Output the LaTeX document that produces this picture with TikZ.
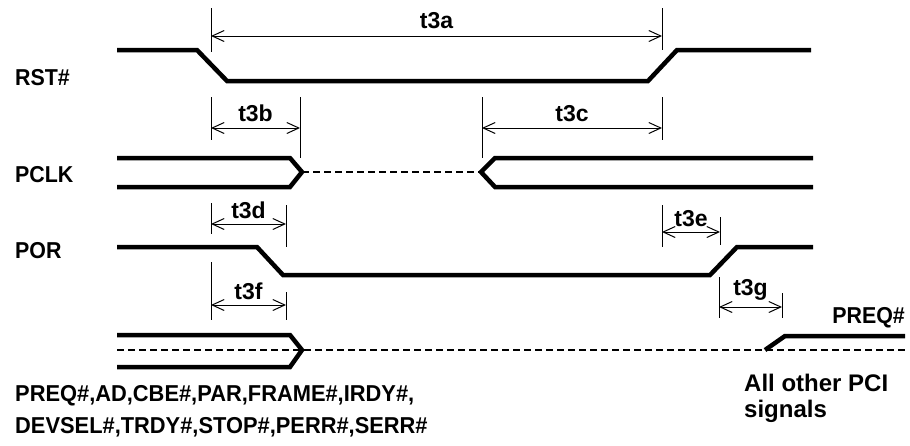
\documentclass[tikz,border=0pt]{standalone}
\usepackage{fontspec}
\setmainfont{Liberation Sans}
\usetikzlibrary{arrows.meta}
\begin{document}
\begin{tikzpicture}[x=1pt,y=-1pt,
  sig/.style={line width=4.5pt,line join=miter},
  dim/.style={line width=1pt,{Straight Barb[length=12pt,width=11pt]}-{Straight Barb[length=12pt,width=11pt]}},
  ext/.style={line width=1pt},
  dsh/.style={line width=1.2pt,dash pattern=on 7pt off 4pt},
  lbl/.style={font=\bfseries\fontsize{23}{26}\selectfont,inner sep=0pt},
  tl/.style={font=\bfseries\fontsize{23}{25}\selectfont,inner sep=0pt}]
\useasboundingbox (0,0) rectangle (910,445);
% labels
\node[lbl,anchor=west] (rst) at (15,78) {\scalebox{0.93}[1]{RST\#}};
\node[lbl,anchor=west] (pclk) at (15,175) {\scalebox{0.93}[1]{PCLK}};
\node[lbl,anchor=west] (por) at (15,251) {\scalebox{0.93}[1]{POR}};
\node[lbl,anchor=west] (sig1) at (15,396) {\scalebox{0.95}[1]{PREQ\#,AD,CBE\#,PAR,FRAME\#,IRDY\#,}};
\node[lbl,anchor=west] (sig2) at (15,427) {\scalebox{0.95}[1]{DEVSEL\#,TRDY\#,STOP\#,PERR\#,SERR\#}};
\node[lbl,anchor=south east] (preq) at (905,328) {\scalebox{0.93}[1]{PREQ\#}};
\node[font=\bfseries\fontsize{24}{26}\selectfont,inner sep=0pt,anchor=north west,align=left] (other) at (744,374) {All other PCI\\signals};
% RST#
\draw[sig] (117,50) -- (197,50) -- (227,81) -- (648,81) -- (677,50) -- (811,50);
% PCLK
\draw[sig] (117,158) -- (290,158) -- (302,172) -- (290,187) -- (117,187);
\draw[sig] (813,158) -- (495,158) -- (481,172) -- (495,187) -- (813,187);
\draw[dsh] (302,172) -- (481,172);
% POR
\draw[sig] (117,247) -- (257,247) -- (283,275) -- (710,275) -- (737,247) -- (813,247);
% bottom group
\draw[sig] (117,335) -- (290,335) -- (302,350) -- (290,367) -- (117,367);
\draw[dsh] (117,350) -- (905,350);
\draw[sig] (765,350) -- (785,336) -- (905,336);
% dimension lines
\coordinate (a1) at (211,36); \coordinate (a2) at (662,36);
\draw[ext] (211,8) -- (211,52); \draw[ext] (662,8) -- (662,50);
\draw[dim] (a1) -- (a2) node[tl,midway,above=7pt] (t3a) {t3a};
\coordinate (b1) at (211,128); \coordinate (b2) at (300,128);
\draw[ext] (211,97) -- (211,140); \draw[ext] (300,97) -- (300,158);
\draw[dim] (b1) -- (b2) node[tl,midway,above=6pt] (t3b) {t3b};
\coordinate (c1) at (482,128); \coordinate (c2) at (662,128);
\draw[ext] (482,97) -- (482,158); \draw[ext] (662,97) -- (662,140);
\draw[dim] (c1) -- (c2) node[tl,midway,above=6pt] (t3c) {t3c};
\coordinate (d1) at (211,224); \coordinate (d2) at (286,224);
\draw[ext] (211,203) -- (211,234); \draw[ext] (286,205) -- (286,247);
\draw[dim] (d1) -- (d2) node[tl,midway,above=5pt] (t3d) {t3d};
\coordinate (e1) at (662,232); \coordinate (e2) at (720,232);
\draw[ext] (662,205) -- (662,247); \draw[ext] (720,217) -- (720,245);
\draw[dim] (e1) -- (e2) node[tl,midway,above=5pt] (t3e) {t3e};
\coordinate (f1) at (211,305); \coordinate (f2) at (286,305);
\draw[ext] (211,262) -- (211,320); \draw[ext] (286,292) -- (286,320);
\draw[dim] (f1) -- (f2) node[tl,midway,above=5pt] (t3f) {t3f};
\coordinate (g1) at (719,307); \coordinate (g2) at (782,307);
\draw[ext] (719,277) -- (719,318); \draw[ext] (782,293) -- (782,318);
\draw[dim] (g1) -- (g2) node[tl,midway,above=6pt] (t3g) {t3g};
\end{tikzpicture}
\end{document}
